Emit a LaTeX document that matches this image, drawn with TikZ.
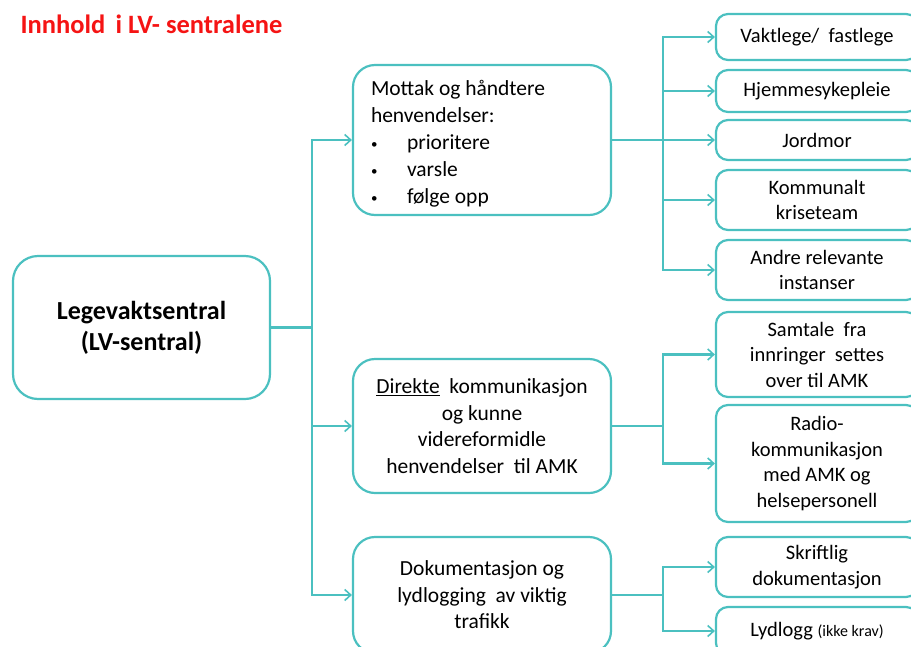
\documentclass[tikz,border=0pt]{standalone}
\usepackage{fontspec}
\setmainfont{Carlito}
\usetikzlibrary{arrows.meta}
\definecolor{teal1}{RGB}{75,192,192}
\definecolor{titlered}{RGB}{245,20,20}
\newcommand{\smallbul}{\makebox[36pt][l]{\raisebox{1.5pt}{\fontsize{13}{13}\selectfont•}}}
\begin{document}
\begin{tikzpicture}[x=1pt,y=-1pt,
  box/.style={draw=teal1,line width=2.2pt,rounded corners=#1,inner sep=0pt,align=center},
  box/.default=12pt,
  l3/.style={box=12pt,minimum width=202pt,font=\fontsize{20.5}{25.5}\selectfont},
  l2/.style={box=22pt,minimum width=258pt,font=\fontsize{21.5}{26.5}\selectfont},
  conn/.style={draw=teal1,line width=2.2pt},
  arr/.style={conn,-{Straight Barb[length=6pt,width=11pt,line width=1.6pt]}}]
\useasboundingbox (0,0) rectangle (911,646);
\clip (0,0) rectangle (911,646);

\node[anchor=base west,text=titlered,font=\fontsize{26.5}{30}\selectfont\bfseries] (title) at (17,33) {Innhold\, i LV- sentralene};

\node[box=25pt,minimum width=257pt,minimum height=143pt,font=\fontsize{26}{31}\selectfont\bfseries] (root) at (141.5,327.5) {Legevaktsentral\\(LV-sentral)};

\node[l2,minimum height=150pt,align=left] (b1) at (482,140) {\begin{minipage}{222pt}\fontsize{21.5}{27}\selectfont\vspace*{8pt}
Mottak og håndtere\\henvendelser:\\
\smallbul prioritere\\
\smallbul varsle\\
\smallbul følge opp\end{minipage}};
\node[l2,minimum height=134pt] (b2) at (482,426) {\underline{Direkte}\ \ kommunikasjon\\og kunne\\videreformidle\\henvendelser\ \ til AMK};
\node[l2,minimum height=116pt] (b3) at (482,595) {Dokumentasjon og\\lydlogging\ \ av viktig\\trafikk};

\node[l3,minimum height=46pt] (v) at (817,37) {Vaktlege/\ \ fastlege};
\node[l3,minimum height=42pt] (h) at (817,91) {Hjemmesykepleie};
\node[l3,minimum height=40pt] (j) at (817,140) {Jordmor};
\node[l3,minimum height=60pt] (k) at (817,200) {Kommunalt\\kriseteam};
\node[l3,minimum height=60pt] (a) at (817,270) {Andre relevante\\instanser};
\node[l3,minimum height=85pt] (s) at (817,354.5) {Samtale\ \ fra\\innringer\ \ settes\\over\ til AMK};
\node[l3,minimum height=117pt] (r) at (817,463.5) {Radio-\\kommunikasjon\\med AMK og\\helsepersonell};
\node[l3,minimum height=60pt] (sk) at (817,567) {Skriftlig\\dokumentasjon};
\node[l3,minimum height=48pt] (ly) at (817,631) {Lydlogg {\fontsize{16}{20}\selectfont(ikke krav)}};

\coordinate (t0) at (312,327.5);
\draw[conn] (root.east) -- (t0);
\draw[arr] (t0) |- (b1.west);
\draw[arr] (t0) |- (b2.west);
\draw[arr] (t0) |- (b3.west);

\coordinate (u1) at (663,140);
\draw[conn] (b1.east) -- (u1);
\foreach \n in {v,h,j,k,a} \draw[arr] (u1) |- (\n.west);

\coordinate (u2) at (663,426);
\draw[conn] (b2.east) -- (u2);
\foreach \n in {s,r} \draw[arr] (u2) |- (\n.west);

\coordinate (u3) at (663,595);
\draw[conn] (b3.east) -- (u3);
\foreach \n in {sk,ly} \draw[arr] (u3) |- (\n.west);
\end{tikzpicture}
\end{document}
